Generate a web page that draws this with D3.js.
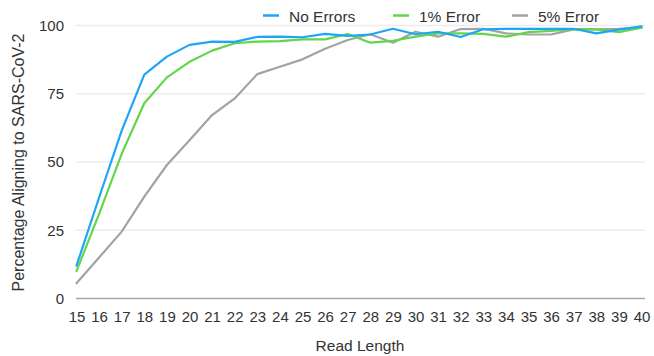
<!DOCTYPE html>
<html><head><meta charset="utf-8">
<script src="https://cdn.jsdelivr.net/npm/d3@7"></script>
<style>html,body{margin:0;padding:0;background:#fff;}svg{display:block;font-family:"Liberation Sans",Arial,Helvetica,sans-serif;}</style>
</head><body>
<svg id="chart" width="654" height="356"></svg>
<script>
const readLengths = [15,16,17,18,19,20,21,22,23,24,25,26,27,28,29,30,31,32,33,34,35,36,37,38,39,40];
const noErrors   = [12,37,61.5,82,88.6,92.9,94.1,94,95.8,95.9,95.7,96.9,96.2,96.7,98.8,96.8,97.7,95.8,98.6,98.8,98.8,98.8,98.8,97.1,98.5,99.7];
const oneError   = [10,31,53,71.5,81,86.7,90.8,93.5,94.1,94.3,94.9,94.9,96.9,93.7,94.4,95.9,97.1,97.1,96.9,95.9,97.6,98,98.7,98.6,97.6,99.2];
const fiveError  = [5.6,15,24.5,37.3,48.9,58,67.2,73.3,82.2,84.9,87.6,91.5,94.7,96.8,93.7,97.7,95.9,98.7,98.8,97.1,96.7,96.7,98.6,98.6,98.8,99.2];
const yTicks = [0,25,50,75,100];
const seriesNames = ["No Errors","1% Error","5% Error"];
const seriesColors = ["#1ea5f7","#62d64a","#a3a3a3"];
const seriesValues = [noErrors, oneError, fiveError];

(function(){
const svg = d3.select("#chart");
const mLeft = 76.5, mRight = 641.5, mTop = 25.5, mBottom = 298.5;
const x = d3.scaleLinear().domain([15,40]).range([mLeft,mRight]);
const y = d3.scaleLinear().domain([0,100]).range([mBottom,mTop]);
const txt = "#333";

// gridlines
svg.append("g").selectAll("line").data(yTicks.filter(d=>d>0)).join("line")
  .attr("x1",76).attr("x2",645).attr("y1",d=>y(d)).attr("y2",d=>y(d))
  .attr("stroke","#ececec").attr("stroke-width",1.5);
svg.append("line").attr("x1",76).attr("x2",645).attr("y1",y(0)).attr("y2",y(0))
  .attr("stroke","#a8a8a8").attr("stroke-width",1.5);

// y axis labels
const yAxis = d3.axisLeft(y).tickValues(yTicks).tickSize(0).tickPadding(0);
const gy = svg.append("g").attr("transform","translate(64,0)").call(yAxis);
gy.select(".domain").remove();
gy.selectAll("text").attr("font-size",15).attr("fill",txt).attr("font-family","Liberation Sans, Arial, sans-serif");

// x axis labels
const xAxis = d3.axisBottom(x).tickValues(readLengths).tickFormat(d3.format("d")).tickSize(0).tickPadding(0);
const gx = svg.append("g").attr("transform","translate(0,311)").call(xAxis);
gx.select(".domain").remove();
gx.selectAll("text").attr("font-size",15).attr("fill",txt).attr("font-family","Liberation Sans, Arial, sans-serif");

// lines
const line = d3.line().x((d,i)=>x(readLengths[i])).y(d=>y(d));
[2,1,0].forEach(k=>{
  svg.append("path").datum(seriesValues[k]).attr("d",line)
    .attr("fill","none").attr("stroke",seriesColors[k]).attr("stroke-width",2.2)
    .attr("stroke-linejoin","round").attr("stroke-linecap","round");
});

// legend
const legendX = [263,393,512];
seriesNames.forEach((n,i)=>{
  svg.append("line").attr("x1",legendX[i]).attr("x2",legendX[i]+16).attr("y1",15.5).attr("y2",15.5)
    .attr("stroke",seriesColors[i]).attr("stroke-width",2.5);
  svg.append("text").attr("x",legendX[i]+26).attr("y",21.5).attr("font-size",15.5).attr("fill",txt).text(n);
});

// axis titles
svg.append("text").attr("x",360).attr("y",350.5).attr("text-anchor","middle").attr("font-size",15.5).attr("fill",txt).text("Read Length");
svg.append("text").attr("transform","translate(23.5,162.5) rotate(-90)").attr("text-anchor","middle").attr("font-size",16).attr("fill",txt).text("Percentage Aligning to SARS-CoV-2");
})();
</script>
</body></html>
